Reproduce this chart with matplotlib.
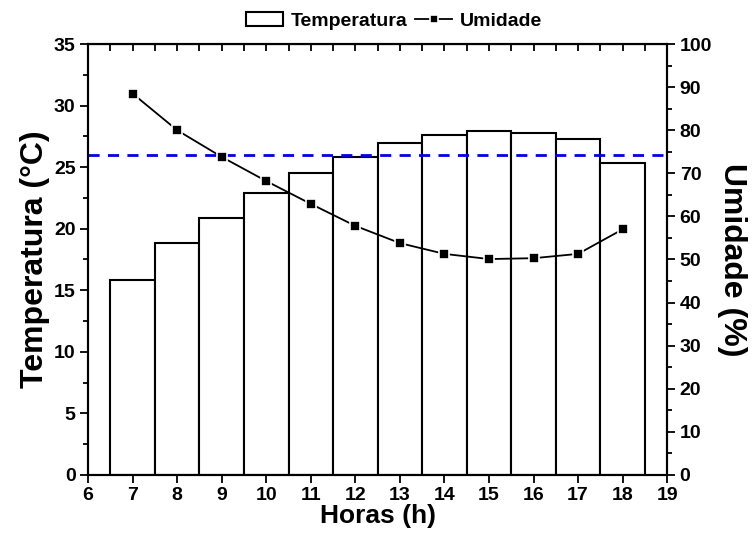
import matplotlib
matplotlib.use("Agg")
import matplotlib.pyplot as plt
from matplotlib.ticker import MultipleLocator

plt.rcParams['font.family'] = ['Liberation Sans', 'DejaVu Sans']
plt.rcParams['font.weight'] = 'bold'

hours = [7, 8, 9, 10, 11, 12, 13, 14, 15, 16, 17, 18]
temperatura = [15.8, 18.8, 20.9, 22.9, 24.5, 25.8, 27.0, 27.6, 27.9, 27.8, 27.3, 25.3]
umidade = [88.5, 80.0, 73.8, 68.2, 62.9, 57.8, 53.8, 51.3, 50.1, 50.3, 51.3, 57.0]
ref_temp = 26.0

fig = plt.figure(figsize=(7.53, 5.44), dpi=100)
ax = fig.add_axes([0.117, 0.127, 0.769, 0.792])
bars = ax.bar(hours, temperatura, width=1.0, color='white', edgecolor='black',
              linewidth=1.5, label='Temperatura', zorder=2)
ax.axhline(ref_temp, color='#0000ee', linestyle=(0, (4, 3)), linewidth=2, zorder=5)
ax.set_xlim(6, 19)
ax.set_ylim(0, 35)
ax.xaxis.set_major_locator(MultipleLocator(1))
ax.yaxis.set_major_locator(MultipleLocator(5))
ax.yaxis.set_minor_locator(MultipleLocator(2.5))
ax.tick_params(axis='y', which='both', direction='out', width=1.3, labelsize=14, pad=3)
ax.tick_params(axis='y', which='major', length=6)
ax.tick_params(axis='y', which='minor', length=3.5)
ax.tick_params(axis='x', which='major', direction='out', length=6, width=1.3, labelsize=14, pad=3)
for lab in ax.get_xticklabels() + ax.get_yticklabels():
    lab.set_fontweight('bold')
ax.set_xlabel('Horas (h)', fontsize=19, fontweight='bold', labelpad=0)
ax.set_ylabel('Temperatura (°C)', fontsize=23, fontweight='bold', labelpad=3)
for s in ax.spines.values():
    s.set_linewidth(1.5)

# top inward ticks
top = ax.secondary_xaxis('top')
top.xaxis.set_major_locator(MultipleLocator(0.5))
top.tick_params(axis='x', direction='in', length=5, width=1.3, labeltop=False)

ax2 = ax.twinx()
line, = ax2.plot(hours, umidade, color='black', linewidth=1.3, marker='s',
                 markersize=7.5, markerfacecolor='black', markeredgecolor='white',
                 markeredgewidth=1.2, label='Umidade', zorder=4)
ax2.set_ylim(0, 100)
ax2.yaxis.set_major_locator(MultipleLocator(10))
ax2.yaxis.set_minor_locator(MultipleLocator(5))
ax2.tick_params(axis='y', which='both', direction='out', width=1.3, labelsize=14, pad=3)
ax2.tick_params(axis='y', which='major', length=6)
ax2.tick_params(axis='y', which='minor', length=3.5)
for lab in ax2.get_yticklabels():
    lab.set_fontweight('bold')
ax2.set_ylabel('Umidade (%)', fontsize=23, fontweight='bold', rotation=-90, labelpad=25)
for s in ax2.spines.values():
    s.set_linewidth(1.5)

fig.legend([bars, line], ['Temperatura', 'Umidade'], ncol=2, frameon=False,
           loc='center', bbox_to_anchor=(394/753, 1 - 21/544),
           prop={'weight': 'bold', 'size': 14}, handlelength=1.9,
           handletextpad=0.4, columnspacing=0.4, markerscale=0.7)

fig.savefig('out.png', dpi=100)
